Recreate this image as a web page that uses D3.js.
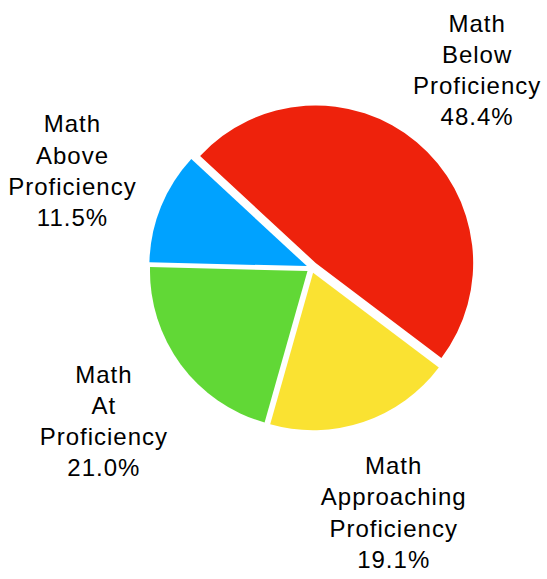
<!DOCTYPE html>
<html>
<head>
<meta charset="utf-8">
<script src="https://cdn.jsdelivr.net/npm/d3@7"></script>
<style>
  html, body { margin: 0; padding: 0; background: #fff; }
  svg { display: block; }
</style>
</head>
<body>
<svg id="chart"></svg>
<script>
// data
var subject = "Math";
var levels = ["Above", "Below", "Approaching", "At"];
var percents = [11.5, 48.4, 19.1, 21.0];

var width = 547, height = 579;
var cx = 311.5, cy = 268, radius = 157.5, label_radius = 258;
var slice_colors = ["#00A2FF", "#EE220C", "#FAE232", "#61D836"];
var explode = [5, 6.5, 5, 5];
var line_gap = 31.3;

var svg = d3.select('#chart')
	.attr('width', width)
	.attr('height', height);

var color = d3.scaleOrdinal().domain(levels).range(slice_colors);

var start = (-90 + 1.4) * Math.PI / 180;
var pie = d3.pie()
	.sort(null)
	.value(function(d) { return d; })
	.startAngle(start)
	.endAngle(start + 2 * Math.PI);
var arc = d3.arc().innerRadius(0).outerRadius(radius);

var slices = pie(percents);
var g = svg.append('g').attr('transform', 'translate(' + cx + ',' + cy + ')');

function mid(d) { return (d.startAngle + d.endAngle) / 2; }

g.selectAll('path.slice')
	.data(slices)
	.enter()
	.append('path')
	.attr('class', 'slice')
	.attr('d', arc)
	.attr('fill', function(d, i) { return color(levels[i]); })
	.attr('transform', function(d, i) {
		var a = mid(d);
		return 'translate(' + (Math.sin(a) * explode[i]) + ',' + (-Math.cos(a) * explode[i]) + ')';
	});

var labels = g.selectAll('text.lbl')
	.data(slices)
	.enter()
	.append('text')
	.attr('class', 'lbl')
	.attr('text-anchor', 'middle')
	.attr('font-family', 'Helvetica, Arial, "Liberation Sans", sans-serif')
	.attr('font-size', 24)
	.attr('letter-spacing', 1)
	.attr('fill', '#000')
	.attr('transform', function(d) {
		var a = mid(d);
		return 'translate(' + (Math.sin(a) * label_radius) + ',' + (-Math.cos(a) * label_radius - 38.6) + ')';
	});

labels.each(function(d, i) {
	var lines = [subject, levels[i], "Proficiency", percents[i].toFixed(1) + "%"];
	var t = d3.select(this);
	lines.forEach(function(s, k) {
		t.append('tspan').attr('x', 0).attr('y', k * line_gap).text(s);
	});
});
</script>
</body>
</html>
